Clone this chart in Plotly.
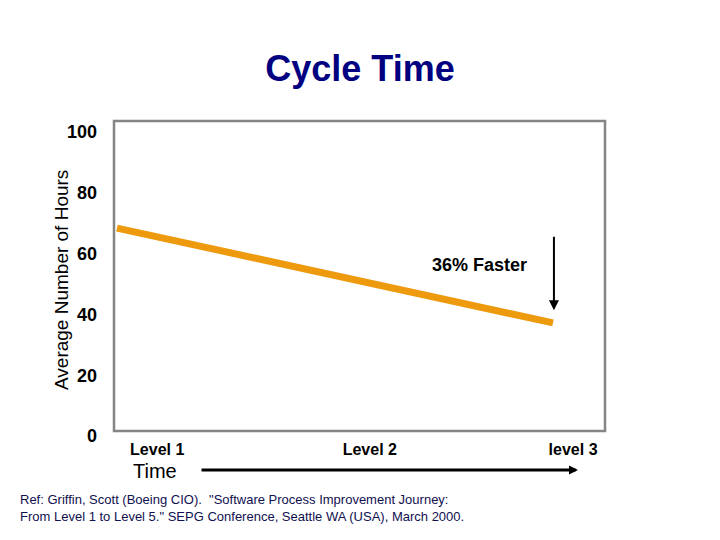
import plotly.graph_objects as go

# Data
line_x = [0.6, 89.4]          # position across the frame (% of width)
line_y = [68.4, 37.2]         # average number of hours
level_labels = ["Level 1", "Level 2", "level 3"]
level_pos = [8.8, 52.1, 93.5]
y_ticks = [0, 20, 40, 60, 80, 100]
arrow_x = 89.6
arrow_tip_y = 41.4
note_text = "36% Faster"
note_x, note_y = 74.5, 56.3

FONT = "Arial, Liberation Sans, sans-serif"
OFF = 8  # page body margin

fig = go.Figure()
fig.add_trace(go.Scatter(
    x=line_x, y=line_y, mode="lines",
    line=dict(color="#EE9A0E", width=7),
    hoverinfo="skip", showlegend=False,
))

W, H = 720 - OFF, 540 - OFF
fig.update_layout(
    width=W, height=H,
    margin=dict(l=114 - OFF, r=115, t=132 - OFF, b=104),
    paper_bgcolor="white", plot_bgcolor="white",
    font=dict(family=FONT, color="black"),
    title=dict(text="<b>Cycle Time</b>", x=(360 - OFF) / W, xanchor="center",
               y=1 - (68 - OFF) / H, yanchor="middle",
               font=dict(size=36, color="#000080", family=FONT)),
    xaxis=dict(range=[0, 100], showgrid=False, zeroline=False, showline=False,
               tickvals=level_pos, ticktext=[f"<b>{t}</b>" for t in level_labels],
               tickfont=dict(size=16, family=FONT), ticks="", ticklabelstandoff=2,
               fixedrange=True),
    yaxis=dict(range=[0, 100], showgrid=False, zeroline=False, showline=False,
               tickvals=y_ticks, ticktext=[f"<b>{v}</b>" for v in y_ticks],
               tickfont=dict(size=18, family=FONT), ticks="", ticklabelstandoff=16,
               fixedrange=True),
)

# Frame
fig.add_shape(type="rect", xref="paper", yref="paper",
              x0=0, x1=1, y0=(436 - 431) / 304, y1=1 + (132 - 121) / 304,
              line=dict(color="#858585", width=2.5), fillcolor="rgba(0,0,0,0)")

# Y axis title
fig.add_annotation(text="Average Number of Hours", xref="paper", yref="paper",
                   x=(61 - 114) / 491, y=(436 - 280) / 304, textangle=-90,
                   xanchor="center", yanchor="middle",
                   showarrow=False, font=dict(size=19, family=FONT, color="black"))

# 36% faster note and arrow
fig.add_annotation(text=f"<b>{note_text}</b>", x=note_x, y=note_y, showarrow=False,
                   xanchor="center", yanchor="middle",
                   font=dict(size=18, family=FONT, color="black"))
fig.add_annotation(x=arrow_x, y=arrow_tip_y, ax=0, ay=-75, text="",
                   showarrow=True, arrowhead=2, arrowsize=1, arrowwidth=2,
                   arrowcolor="black")

# Time arrow
fig.add_annotation(text="Time", xref="paper", yref="paper",
                   x=(155 - 114) / 491, y=(436 - 471) / 304, showarrow=False,
                   xanchor="center", yanchor="middle",
                   font=dict(size=20, family=FONT, color="black"))
fig.add_annotation(xref="paper", yref="paper", x=(578 - 114) / 491,
                   y=(436 - 470) / 304, ax=-378, ay=0, text="",
                   showarrow=True, arrowhead=2, arrowsize=0.6, arrowwidth=3,
                   arrowcolor="black")

# Reference
fig.add_annotation(
    text="Ref: Griffin, Scott (Boeing CIO).  \"Software Process Improvement Journey:<br>"
         "From Level 1 to Level 5.\" SEPG Conference, Seattle WA (USA), March 2000.",
    xref="paper", yref="paper", x=(18 - 114) / 491, y=(436 - 490) / 304,
    xanchor="left", yanchor="top", align="left", showarrow=False,
    font=dict(size=13, family=FONT, color="#101050"))

fig.write_html("out.html")
